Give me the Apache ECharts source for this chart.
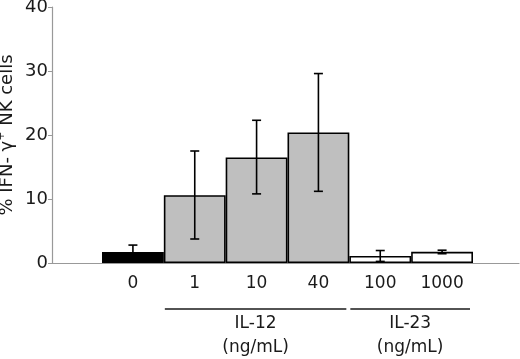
<!DOCTYPE html>
<html>
<head>
<meta charset="utf-8">
<script src="https://cdn.jsdelivr.net/npm/echarts@6/dist/echarts.min.js"></script>
<style>
  html, body { margin: 0; padding: 0; background: #fff; }
  #chart { width: 520px; height: 359px; }
</style>
</head>
<body>
<div id="chart"></div>
<script>
// concentrations (ng/mL)
var doses = ['0', '1', '10', '40', '100', '1000'];
// % IFN-gamma+ NK cells, mean
var means = [1.7, 10.6, 16.5, 20.4, 1.1, 1.75];
// error bar ends
var errLow = [0.6, 3.75, 10.8, 11.2, 0.25, 1.45];
var errHigh = [2.8, 17.5, 22.3, 29.6, 1.95, 2.0];
var barColors = ['#000000', '#bfbfbf', '#bfbfbf', '#bfbfbf', '#ffffff', '#ffffff'];

// groups under the axis
var groupNames = ['IL-12', 'IL-23'];
var groupFirst = [1, 4];
var groupLast = [3, 5];
var groupUnit = '(ng/mL)';

var yTicks = [0, 10, 20, 30, 40];

var chart = echarts.init(document.getElementById('chart'));

var barData = means.map(function (v, i) {
    return { value: v, itemStyle: { color: barColors[i] } };
});
var errData = means.map(function (v, i) { return [i, errLow[i], errHigh[i]]; });
var groupData = groupNames.map(function (n, i) { return [groupFirst[i], groupLast[i], i]; });

var option = {
    animation: false,
    backgroundColor: '#fff',
    textStyle: { fontFamily: 'DejaVu Sans' },
    grid: [
        // axes frame
        { left: 52, right: 1, top: 7, bottom: 96, outerBoundsMode: 'none' },
        // bars
        { left: 102, right: 47, top: 7, bottom: 96, outerBoundsMode: 'none' }
    ],
    xAxis: [
        {
            gridIndex: 0,
            type: 'category',
            data: [''],
            axisLine: { lineStyle: { color: '#999', width: 1.2 } },
            axisTick: { show: false },
            axisLabel: { show: false }
        },
        {
            gridIndex: 1,
            type: 'category',
            data: doses,
            axisLine: { show: false },
            axisTick: { show: false },
            axisLabel: { fontSize: 17, color: '#1a1a1a', margin: 12, fontFamily: 'DejaVu Sans' }
        }
    ],
    yAxis: [
        {
            gridIndex: 0,
            type: 'value',
            min: yTicks[0],
            max: yTicks[yTicks.length - 1],
            interval: 10,
            splitLine: { show: false },
            axisLine: { show: true, lineStyle: { color: '#999', width: 1.2 } },
            axisTick: { show: true, length: 4, lineStyle: { color: '#999' } },
            axisLabel: { fontSize: 18, color: '#1a1a1a', margin: 4, fontFamily: 'DejaVu Sans' },
            name: '% IFN- γ{sup|+} NK cells',
            nameLocation: 'middle',
            nameGap: 34,
            nameMoveOverlap: false,
            nameTextStyle: {
                fontSize: 18,
                color: '#1a1a1a',
                fontFamily: 'DejaVu Sans',
                rich: {
                    sup: { fontSize: 11, verticalAlign: 'bottom', padding: [0, 0, 11, 0], color: '#1a1a1a' }
                }
            }
        },
        {
            gridIndex: 1,
            type: 'value',
            min: yTicks[0],
            max: yTicks[yTicks.length - 1],
            show: false
        }
    ],
    series: [
        {
            type: 'bar',
            xAxisIndex: 1,
            yAxisIndex: 1,
            barWidth: '100%',
            data: barData,
            itemStyle: { borderColor: '#000', borderWidth: 1.6 },
            z: 2
        },
        {
            type: 'custom',
            xAxisIndex: 1,
            yAxisIndex: 1,
            data: errData,
            z: 3,
            renderItem: function (params, api) {
                var lo = api.coord([api.value(0), api.value(1)]);
                var hi = api.coord([api.value(0), api.value(2)]);
                var w = 4.5;
                var st = { stroke: '#000', lineWidth: 1.6 };
                return {
                    type: 'group',
                    children: [
                        { type: 'line', shape: { x1: lo[0], y1: lo[1], x2: hi[0], y2: hi[1] }, style: st },
                        { type: 'line', shape: { x1: lo[0] - w, y1: lo[1], x2: lo[0] + w, y2: lo[1] }, style: st },
                        { type: 'line', shape: { x1: hi[0] - w, y1: hi[1], x2: hi[0] + w, y2: hi[1] }, style: st }
                    ]
                };
            }
        },
        {
            type: 'custom',
            xAxisIndex: 1,
            yAxisIndex: 1,
            data: groupData,
            clip: false,
            silent: true,
            renderItem: function (params, api) {
                var a = api.coord([api.value(0), 0]);
                var b = api.coord([api.value(1), 0]);
                var half = api.size([1, 0])[0] / 2;
                var x1 = a[0] - half + 1;
                var x2 = b[0] + half - 3;
                var y = a[1] + 46;
                var name = groupNames[api.value(2)];
                var ts = { fill: '#1a1a1a', fontSize: 17, fontFamily: 'DejaVu Sans', align: 'center', verticalAlign: 'middle' };
                return {
                    type: 'group',
                    children: [
                        { type: 'line', shape: { x1: x1, y1: y, x2: x2, y2: y }, style: { stroke: '#1a1a1a', lineWidth: 1.6 } },
                        { type: 'text', x: (x1 + x2) / 2, y: y + 15, style: Object.assign({ text: name }, ts) },
                        { type: 'text', x: (x1 + x2) / 2, y: y + 39, style: Object.assign({ text: groupUnit }, ts) }
                    ]
                };
            }
        }
    ]
};

chart.setOption(option);
</script>
</body>
</html>
